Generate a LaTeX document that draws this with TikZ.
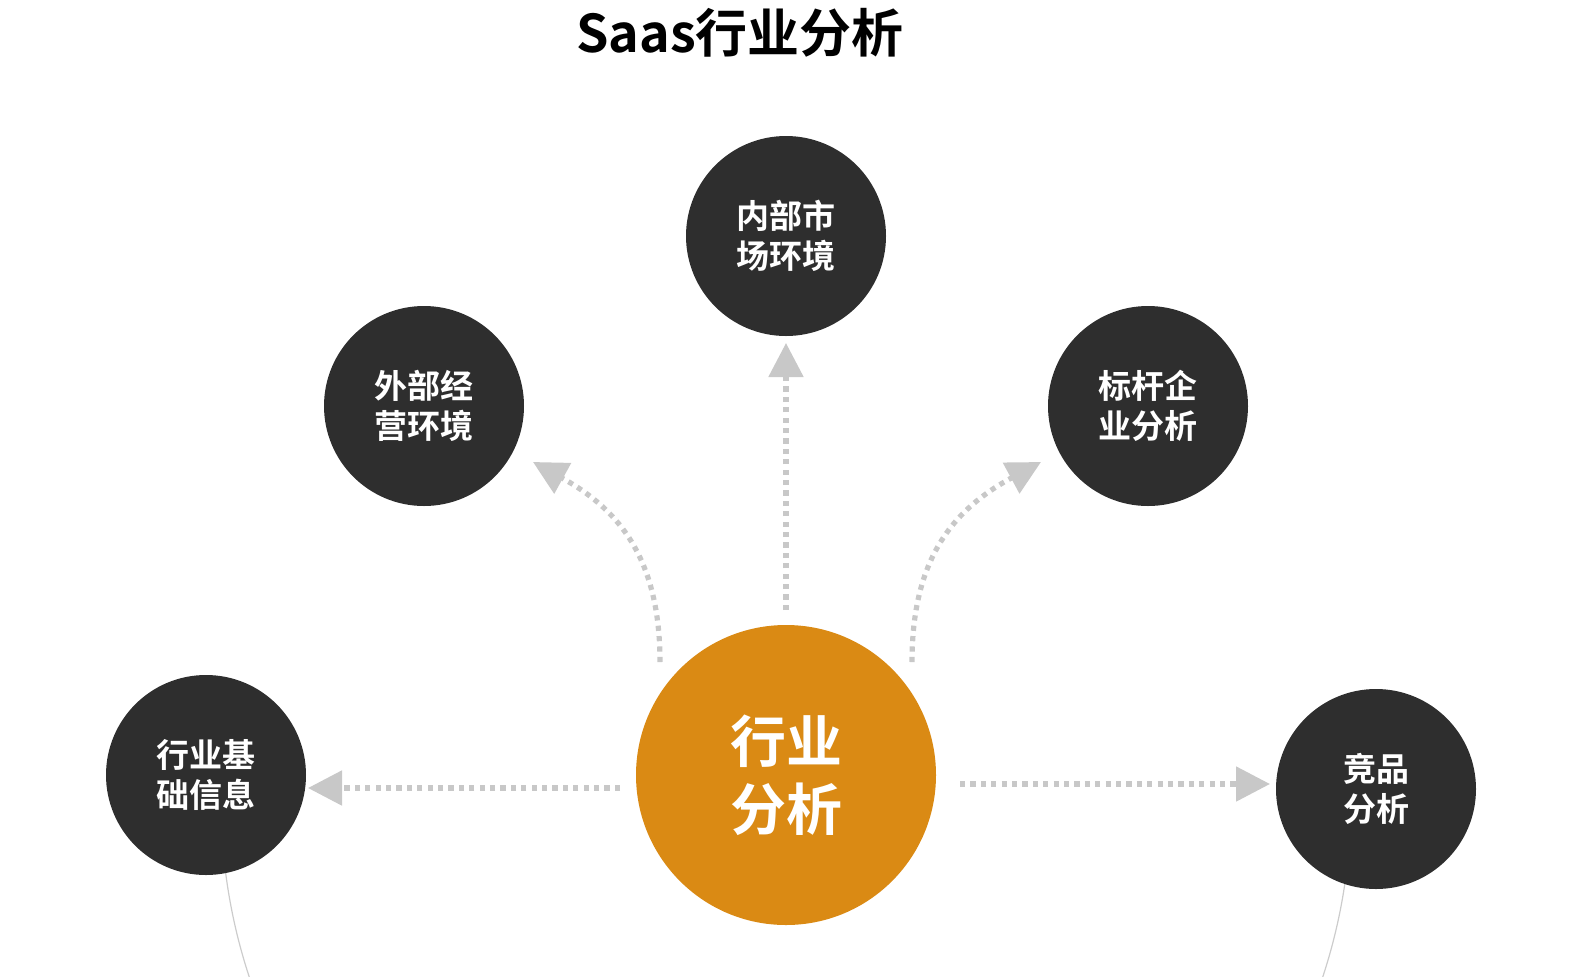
\documentclass[tikz,border=0pt]{standalone}
\usepackage{fontspec}
\newfontfamily\cjk{Noto Sans CJK SC}[BoldFont={* Bold}]
\usetikzlibrary{arrows.meta}
\definecolor{dark}{HTML}{2E2E2E}
\definecolor{orng}{HTML}{DA8A14}
\definecolor{arr}{HTML}{C8C8C8}
\tikzset{
 bub/.style={circle,fill=dark,minimum size=100pt,inner sep=0pt,text=white,font=\cjk\bfseries\fontsize{16.5}{20}\selectfont,align=center},
 flow/.style={arr,line width=2.6pt,dash pattern=on 2.6pt off 2.6pt,-{Triangle[length=17pt,width=17pt,fill=arr]}}
}
\begin{document}
\begin{tikzpicture}[x=0.5pt,y=-0.5pt]
\useasboundingbox (0,0) rectangle (1575,976);
\draw[gray!40,line width=0.6pt] (221,800) arc[start angle=180,end angle=0,radius=565];
\node[font=\cjk\bfseries\fontsize{26}{30}\selectfont] (t) at (740,33) {Saas行业分析};
\node[bub] (n1) at (786,236) {内部市\\场环境};
\node[bub] (n2) at (424,406) {外部经\\营环境};
\node[bub] (n3) at (1148,406) {标杆企\\业分析};
\node[bub] (n4) at (206,775) {行业基\\础信息};
\node[bub] (n5) at (1376,789) {竞品\\分析};
\node[circle,fill=orng,minimum size=150pt,inner sep=0pt,text=white,align=center,font=\cjk\bfseries\fontsize{28}{34}\selectfont] (c) at (786,775) {行业\\分析};
\coordinate (a1) at (620,788); \coordinate (b1) at (308,788);
\coordinate (a2) at (960,784); \coordinate (b2) at (1270,784);
\coordinate (a3) at (786,610); \coordinate (b3) at (786,343);
\coordinate (a4) at (660,662); \coordinate (b4) at (533,462);
\coordinate (a5) at (912,662); \coordinate (b5) at (1041,462);
\draw[flow] (a1) -- (b1);
\draw[flow] (a2) -- (b2);
\draw[flow] (a3) -- (b3);
\draw[flow] (a4) .. controls (660,560) and (620,510) .. (b4);
\draw[flow] (a5) .. controls (912,560) and (952,510) .. (b5);
\end{tikzpicture}
\end{document}
